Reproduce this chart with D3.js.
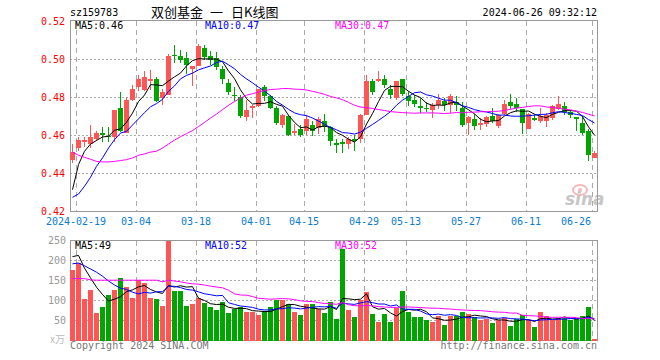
<!DOCTYPE html>
<html>
<head>
<meta charset="utf-8">
<script src="https://cdn.jsdelivr.net/npm/d3@7/dist/d3.min.js"></script>
<style>
  body { margin: 0; background: #fff; }
  text { font-family: "DejaVu Sans Mono", monospace; font-size: 10px; }
</style>
</head>
<body>
<div id="chart"></div>
<script>
// trading days shown (02-08 is the last day before the spring festival break)
const dates = ["02-08",
  "02-19","02-20","02-21","02-22","02-23","02-26","02-27","02-28","02-29",
  "03-01","03-04","03-05","03-06","03-07","03-08","03-11","03-12","03-13","03-14","03-15",
  "03-18","03-19","03-20","03-21","03-22","03-25","03-26","03-27","03-28","03-29",
  "04-01","04-02","04-03","04-08","04-09","04-10","04-11","04-12","04-15","04-16","04-17",
  "04-18","04-19","04-22","04-23","04-24","04-25","04-26","04-29","04-30",
  "05-06","05-07","05-08","05-09","05-10","05-13","05-14","05-15","05-16","05-17",
  "05-20","05-21","05-22","05-23","05-24","05-27","05-28","05-29","05-30","05-31",
  "06-03","06-04","06-05","06-06","06-07","06-11","06-12","06-13","06-14",
  "06-17","06-18","06-19","06-20","06-21","06-24","06-25","06-26"];

// prices in thousandths of a yuan
const open = [447.2,453.3,456.5,455.4,458.2,461.1,459.8,459.1,474.4,461.4,
  478.6,485.4,484,488.8,489.8,479.6,481.1,502.1,501.6,500.7,
  494.9,496.5,506,501.6,500.7,494.9,487.5,481.4,480.4,469.8,
  474.4,475.4,485.3,480.5,474.4,465.3,470.2,461.2,463.5,462.5,
  465.3,463.9,467.4,464.2,455.8,456.5,455.4,458.2,458.2,470.9,
  488.8,488.8,489.8,484.6,479.6,489.8,480.9,478.8,475.4,474.4,
  473.5,476.1,478.2,476.1,477.5,474.4,466.5,468.6,465.6,466,
  470,464.7,471.2,477.5,476.5,474,463.5,468.9,467.7,467.7,
  469.1,474,475.4,472.3,469.6,466.5,462.5,448.1];
const close = [451.2,457.5,457.5,459.1,461.2,460.4,459.3,473.5,462.5,478.6,
  484.6,489.8,490.5,489.8,477.9,482.8,501.8,501.6,499.8,496.8,
  496.5,507,501,499.8,496.1,489.8,482.8,480.7,470.2,473.3,
  475.4,484.4,480.9,474.4,466.5,470.5,460.4,462.3,460.4,468.6,
  462.5,468.6,464.2,456.8,455.1,455.4,458.2,456.8,470.5,488.8,
  482.8,489.8,486.3,481.1,488.8,481.8,477.9,476.5,474.4,473.9,
  476.1,478.8,475.8,480.7,475.8,465.6,469.5,464.7,466.5,469.5,
  467.7,470.5,476.5,475.4,474.4,466.5,471.2,468.2,470,470.5,
  475.4,476.5,472.3,470.5,468.8,461.2,449.5,450.5];
const high = [455.4,459,459,465.3,462.1,464.4,464.4,473.5,482.8,480,
  486.7,491.9,493.7,494.6,490.5,484.6,502.8,507.4,504.7,503.9,
  496.5,508.1,507.4,504.2,503.9,496.3,489.8,485.3,481.4,478.6,
  476.1,484.4,486.3,481.4,475.3,471.2,470.5,466,465.3,470.5,
  467.7,469.5,471.2,464.7,458.2,458.2,458.9,460.4,471.2,491.9,
  489.8,494,491.6,486.3,488.8,489.8,483.2,481.1,479.6,477.5,
  476.8,481.8,479.6,481.8,480.5,477.5,470,471.2,469.1,470,
  474.4,471.2,478.6,481.8,479.6,474,471.8,471.2,474.4,471.8,
  476.1,480.5,477.5,473.5,469.6,470,463.5,451.6];
const low = [445.4,451.6,454,453.3,457.2,456.3,456.3,456.5,461.8,461.4,
  477.9,483.2,483.2,484,477.5,476.1,481.1,498.1,498.1,492.3,
  486.1,496.5,499.6,496.8,494.6,487.2,481.4,478.2,469.1,467.7,
  469.1,474.7,478.2,473.7,465.3,463.9,459.8,460,458.9,460.4,
  459.8,460.7,461.8,454.2,450.7,450.7,453,451.6,456,470.9,
  481.1,488.1,484.9,479.3,478.6,480.5,475.3,474.7,471.8,472.3,
  469.1,473.7,473,471.8,473,464.2,460,463,463,464.2,
  466.5,463.9,470.5,473.7,472.3,460.7,463.5,467.4,466.5,464.2,
  468.2,473.5,470.5,469.1,462.5,460,446.7,448.1];

// volume, 10k shares
const volume = [177,195,104,127,70,85,114,127,157,134,
  107,152,144,107,104,87,252,124,124,87,
  92,108,95,84,77,97,69,81,85,72,
  72,64,75,85,103,102,93,72,64,92,
  92,81,69,97,55,229,77,59,103,122,
  67,47,68,47,83,124,72,59,59,52,
  47,62,39,62,63,72,67,59,52,56,
  44,53,57,37,56,64,52,35,72,62,
  53,57,57,53,55,62,84,4];

// moving-average values before a full window exists
const ma5Head = [431.4,444.6,451.6,455.4];
const ma10Head = [427.4,429.1,433.2,437.9,443.7,448.1,453.3,457.7,461.2];
const ma30Head = [451.2,449.5,448.4,447.4,446.3,446,446,446.3,446.7,447.2,
  448.1,449.5,450.2,451.2,451.6,453.3,455.4,457.5,459.3,460.9,
  462.5,464.6,466.8,469.1,471.2,473.5,475.8,477.8,479.6];
const vma5Head = [211,214,182,158];
const vma10Head = [193,195,188,180,172,162,150,140,132];
const vma30Head = [156,156,156,153,152,152,152,152,152,152,
  152,152,152,152,152,148,152,150,148,145,
  143,142,140,137,135,133,127,118,115];

const tickIdx = [1,11,21,31,39,49,56,66,76,87];
const priceTicks = [0.42,0.44,0.46,0.48,0.50,0.52];
const volTicks = [50,100,150,200,250];
const legendPrice = ["MA5:0.46","MA10:0.47","MA30:0.47"];
const legendVol = ["MA5:49","MA10:52","MA30:52"];
const titleParts = ["双创基金", "一", "日K线图"];
const maColors = ["#000","#00f","#f0f"];

const UP = "#ff5555", DOWN = "#00a600", GRID = "#aaa", FRAME = "#999";

function movAvg(vals, n, head) {
  return vals.map((v, i) => i < n - 1 ? head[i] : d3.mean(vals.slice(i - n + 1, i + 1)));
}

const width = 660, height = 360;
const svg = d3.select("#chart").append("svg")
  .attr("width", width).attr("height", height);

const x = d3.scaleBand().domain(d3.range(dates.length)).range([70, 597]).paddingInner(1 / 6);
const y = d3.scaleLinear().domain([0.42, 0.52]).range([211.33, 21.33]);
const vy = d3.scaleLinear().domain([0, 250]).range([341, 241]);
const px = (i) => x(i) + 2.5;
const crisp = (v) => Math.floor(v) + 0.5;

/********************* Header *********************/
svg.append("text").attr("x", 70).attr("y", 16).text("sz159783");
// title is set in three pieces to keep the wide gaps round the dash
const titleX = [151, 210, 231];
svg.append("g")
  .style("font-family", "'Noto Sans CJK SC', sans-serif").style("font-size", "13px")
  .selectAll("text").data(titleParts).enter().append("text")
  .attr("x", (d, k) => titleX[k]).attr("y", 17)
  .style("font-family", "'Noto Sans CJK SC', sans-serif").style("font-size", "13px")
  .text((d) => d);
svg.append("text").attr("x", 597).attr("y", 16).attr("text-anchor", "end")
  .text("2024-06-26 09:32:12");

/********************* Price panel *********************/
const grid = svg.append("g").attr("fill", "none").attr("stroke", GRID).attr("stroke-width", 1);
grid.selectAll(".hp").data(priceTicks.slice(1, -1)).enter().append("line")
  .attr("x1", 70).attr("x2", 597)
  .attr("y1", (d) => crisp(y(d))).attr("y2", (d) => crisp(y(d)))
  .attr("stroke-dasharray", "2,2");
grid.selectAll(".vp").data(tickIdx).enter().append("line")
  .attr("x1", (d) => x(d) + 0.5).attr("x2", (d) => x(d) + 0.5)
  .attr("y1", 21).attr("y2", 211)
  .attr("stroke-dasharray", "5,4");
// volume grid
grid.selectAll(".hv").data(volTicks.slice(0, -1)).enter().append("line")
  .attr("x1", 70).attr("x2", 597)
  .attr("y1", (d) => crisp(vy(d)) - 1).attr("y2", (d) => crisp(vy(d)) - 1)
  .attr("stroke-dasharray", "2,2");
grid.selectAll(".vv").data(tickIdx).enter().append("line")
  .attr("x1", (d) => x(d) + 0.5).attr("x2", (d) => x(d) + 0.5)
  .attr("y1", 241).attr("y2", 341)
  .attr("stroke-dasharray", "5,4");

// watermark
const wm = svg.append("g").attr("opacity", 0.55);
wm.append("ellipse").attr("cx", 580).attr("cy", 190).attr("rx", 7).attr("ry", 5)
  .attr("fill", "none").attr("stroke", "#f08080").attr("stroke-width", 2);
wm.append("circle").attr("cx", 580).attr("cy", 190).attr("r", 2).attr("fill", "#f08080");
wm.append("text").attr("x", 565).attr("y", 205)
  .style("font-family", "'DejaVu Sans', sans-serif").style("font-size", "17px")
  .style("font-style", "italic").style("font-weight", "bold")
  .attr("fill", "#999").text("sina");

// frames
svg.append("rect").attr("x", 70.5).attr("y", 20.5).attr("width", 527).attr("height", 191)
  .attr("fill", "none").attr("stroke", FRAME);
svg.append("rect").attr("x", 70.5).attr("y", 240.5).attr("width", 527).attr("height", 100)
  .attr("fill", "none").attr("stroke", FRAME);

const isUp = (i) => close[i] >= open[i];
const candles = svg.append("g").attr("shape-rendering", "crispEdges");
candles.selectAll("line").data(d3.range(dates.length)).enter().append("line")
  .attr("x1", (i) => x(i) + 2.5).attr("x2", (i) => x(i) + 2.5)
  .attr("y1", (i) => Math.round(y(high[i] / 1000)))
  .attr("y2", (i) => Math.round(y(low[i] / 1000)))
  .attr("stroke", (i) => isUp(i) ? UP : DOWN);
candles.selectAll("rect").data(d3.range(dates.length)).enter().append("rect")
  .attr("x", (i) => x(i))
  .attr("width", x.bandwidth())
  .attr("y", (i) => Math.round(y(Math.max(open[i], close[i]) / 1000)))
  .attr("height", (i) => Math.max(1, Math.round(y(Math.min(open[i], close[i]) / 1000)) -
    Math.round(y(Math.max(open[i], close[i]) / 1000))))
  .attr("fill", (i) => isUp(i) ? UP : DOWN);

const priceMA = [movAvg(close, 5, ma5Head), movAvg(close, 10, ma10Head), movAvg(close, 30, ma30Head)];
const pLine = d3.line().x((d, i) => px(i)).y((d) => y(d / 1000));
svg.append("g").selectAll("path").data(priceMA).enter().append("path")
  .attr("d", pLine).attr("fill", "none")
  .attr("stroke", (d, k) => maColors[k]).attr("stroke-width", 1);

/********************* Volume panel *********************/
svg.append("clipPath").attr("id", "vclip").append("rect")
  .attr("x", 70).attr("y", 241).attr("width", 528).attr("height", 100);
const vol = svg.append("g").attr("clip-path", "url(#vclip)");
vol.append("g").attr("shape-rendering", "crispEdges")
  .selectAll("rect").data(volume).enter().append("rect")
  .attr("x", (d, i) => x(i)).attr("width", x.bandwidth())
  .attr("y", (d) => Math.round(vy(d)))
  .attr("height", (d) => vy(0) - Math.round(vy(d)))
  .attr("fill", (d, i) => isUp(i) ? UP : DOWN);

const volMA = [movAvg(volume, 5, vma5Head), movAvg(volume, 10, vma10Head), movAvg(volume, 30, vma30Head)];
const vLine = d3.line().x((d, i) => px(i)).y((d) => vy(d));
vol.append("g").selectAll("path").data(volMA).enter().append("path")
  .attr("d", vLine).attr("fill", "none")
  .attr("stroke", (d, k) => maColors[k]).attr("stroke-width", 1);

/********************* Axis labels *********************/
svg.append("g").attr("fill", "#f00").attr("text-anchor", "end")
  .selectAll("text").data(priceTicks).enter().append("text")
  .attr("x", 65).attr("y", (d) => y(d) + 3.5)
  .text((d) => d3.format(".2f")(d));

svg.append("g").attr("fill", "#999").attr("text-anchor", "end")
  .selectAll("text").data(volTicks).enter().append("text")
  .attr("x", 66).attr("y", (d) => vy(d) + 3)
  .text((d) => d);
svg.append("text").attr("x", 65).attr("y", 343).attr("text-anchor", "end")
  .attr("fill", "#bbb").style("font-family", "'Noto Sans CJK SC', sans-serif")
  .style("font-size", "10px").text("x万");

svg.append("g").attr("fill", "#0a7bd0")
  .selectAll("text").data(tickIdx).enter().append("text")
  .attr("y", 225)
  .attr("x", (d) => x(d))
  .attr("text-anchor", "middle")
  .text((d, k) => (k === 0 ? "2024-" : "") + dates[d])
  .each(function () {
    // keep the last label inside the frame
    const b = this.getBBox();
    if (b.x + b.width > 591) d3.select(this).attr("text-anchor", "end").attr("x", 591);
  });

/********************* Legends *********************/
const legX = [75, 205, 335];
svg.append("g").selectAll("text").data(legendPrice).enter().append("text")
  .attr("x", (d, k) => legX[k]).attr("y", 29)
  .attr("fill", (d, k) => maColors[k]).text((d) => d);
svg.append("g").selectAll("text").data(legendVol).enter().append("text")
  .attr("x", (d, k) => legX[k]).attr("y", 249)
  .attr("fill", (d, k) => maColors[k]).text((d) => d);

svg.append("text").attr("x", 70).attr("y", 349).attr("fill", "#777")
  .text("Copyright 2024 SINA.COM");
svg.append("text").attr("x", 597).attr("y", 349).attr("fill", "#777")
  .attr("text-anchor", "end").text("http://finance.sina.com.cn");
</script>
</body>
</html>
